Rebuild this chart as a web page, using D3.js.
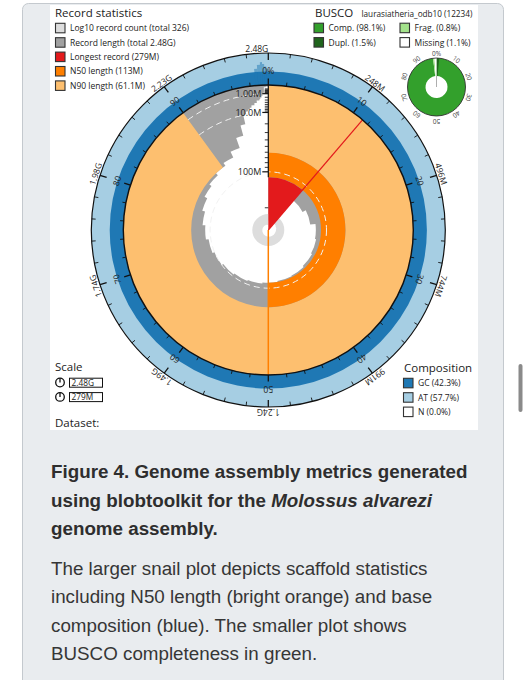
<!DOCTYPE html>
<html><head><meta charset="utf-8">
<script src="https://cdn.jsdelivr.net/npm/d3@7"></script>
<style>
html,body{margin:0;padding:0;background:#fff;}
svg{display:block;}
</style></head><body>
<svg id="c" width="528" height="680"></svg>
<script>
// ---------------- DATA ----------------
// record (scaffold) lengths in Mb, largest first, read from the snail plot steps
const recordLengthsM = [279,150,140,126,123,120,117,115,113,110,107,104,100,95,89,83,77,71,66,61.1,
  55,45,30,18,10,8,7,6,5,5,4,4,3,3,3,2.5,2,2,1.5,1.5,1,1,1,0.8,0.7];
// remaining small records: [count, length Mb]
const smallRecordGroups = [[81,0.07],[200,0.034]];
const longestM = 279, n50M = 113, n90M = 61.1;
const n50Pct = 50, n90Pct = 90;
const outerTickLabels = ["248M","496M","744M","991M","1.24G","1.49G","1.74G","1.98G","2.23G","2.48G"];
const percentTickLabels = ["0%","10","20","30","40","50","60","70","80","90"];
const radialMajorTicksM = [100, 10, 1];
const radialMinorTicksM = [200, 90,80,70,60,50,40,30,20, 9,8,7,6,5,4,3,2, 0.9,0.8,0.7,0.6,0.5,0.4,0.3,0.2];
const compositionNames = ["GC","AT","N"];
const compositionPct = [42.3, 57.7, 0.0];
const gcTailEdgesPct = [98.6, 98.9, 99.2, 99.4, 99.6, 99.8, 100];
const gcTailValues = [52, 64, 72, 66, 58, 49];
const buscoNames = ["Comp.","Dupl.","Frag.","Missing"];
const buscoPct = [98.1, 1.5, 0.8, 1.1];
const buscoTickLabels = ["0%","10","20","30","40","50","60","70","80","90"];
const recordLegend = ["Log10 record count (total 326)","Record length (total 2.48G)","Longest record (279M)","N50 length (113M)","N90 length (61.1M)"];
const scaleLegend = ["2.48G","279M"];

// ---------------- SETUP ----------------
const col = {count:"#dddddd", len:"#a1a1a1", longest:"#e31a1c", n50:"#ff7f00", n90:"#fdbf6f",
  gc:"#1f78b4", at:"#a6cee3", n:"#ffffff", comp:"#33a02c", dupl:"#20641c", frag:"#a3e28b", missing:"#ffffff"};
const FONT = "'Open Sans', 'Noto Sans', sans-serif";
const svg = d3.select("#c");
svg.append("rect").attr("width",528).attr("height",680).attr("fill","#fff");
svg.append("rect").attr("x",22.5).attr("y",3.5).attr("width",481).attr("height",700).attr("rx",6)
  .attr("fill","#e9ecef").attr("stroke","#c4c9ce");
svg.append("rect").attr("x",50).attr("y",5).attr("width",428).attr("height",425).attr("fill","#fff");
svg.append("rect").attr("x",518.5).attr("y",364).attr("width",4).attr("height",48).attr("rx",2).attr("fill","#8a8a8a");

const cx = 268.3, cy = 230, R = 145, Rout = 177;
const lengths = recordLengthsM.concat(smallRecordGroups.flatMap(([n,l]) => Array(n).fill(l)));
const total = d3.sum(lengths);
const aScale = d3.scaleLinear().domain([0,total]).range([0,2*Math.PI]);
const pScale = d3.scaleLinear().domain([0,100]).range([0,2*Math.PI]);
const rScale = d3.scaleSqrt().domain([0,longestM]).range([R,0]);
const cScale = d3.scaleLog().domain([1,1000]).range([9.5,0.5]);
const arc = d3.arc();
const g = svg.append("g").attr("transform",`translate(${cx},${cy})`);
const H = Math.PI/2;

// record length area (grey) with white core
g.append("circle").attr("r",R).attr("fill",col.len);
{
  const p = d3.path(); p.moveTo(0,0); let c = 0;
  lengths.forEach(l => { p.arc(0,0,rScale(l),aScale(c)-H,aScale(c+l)-H); c += l; });
  p.closePath();
  g.append("path").attr("d",p.toString()).attr("fill","#fff");
}
// N90 and N50
g.append("path").attr("d",arc({innerRadius:rScale(n90M),outerRadius:R,startAngle:0,endAngle:pScale(n90Pct)})).attr("fill",col.n90);
g.append("path").attr("d",arc({innerRadius:rScale(n50M),outerRadius:rScale(n90M),startAngle:0,endAngle:pScale(n50Pct)})).attr("fill",col.n50);
// log10 count spiral
g.append("circle").attr("r",cScale(1)+6.5).attr("fill",col.count);
{
  const p = d3.path(); p.moveTo(0,0); let c = 0;
  lengths.forEach((l,i) => { p.arc(0,0,cScale(i+1),aScale(c)-H,aScale(c+l)-H); c += l; });
  p.closePath();
  g.append("path").attr("d",p.toString()).attr("fill","#fff");
}
// longest record
g.append("path").attr("d",arc({innerRadius:0,outerRadius:rScale(n50M),startAngle:0,endAngle:aScale(longestM)})).attr("fill",col.longest);
// dashed order-of-magnitude lines
g.append("circle").attr("r",rScale(100)).attr("fill","none").attr("stroke","#f2f2f2").attr("stroke-width",1).attr("stroke-dasharray","6,4");
[10,1].forEach(v => {
  const r = rScale(v);
  const p = d3.path(); p.arc(0,0,r,pScale(n90Pct)-H,2*Math.PI-H);
  g.append("path").attr("d",p.toString()).attr("fill","none").attr("stroke","#f2f2f2").attr("stroke-width",1).attr("stroke-dasharray","6,4");
});
// radial lines
function radial(a, r0, r1, color, w){
  g.append("line").attr("x1",r0*Math.sin(a)).attr("y1",-r0*Math.cos(a)).attr("x2",r1*Math.sin(a)).attr("y2",-r1*Math.cos(a))
    .attr("stroke",color).attr("stroke-width",w);
}
radial(aScale(longestM),0,R,col.longest,1.2);
radial(pScale(n50Pct),0,R,col.n50,1.5);
// radial axis
g.append("line").attr("x1",0).attr("x2",0).attr("y1",-rScale(n50M)).attr("y2",-R).attr("stroke","#111").attr("stroke-width",1.2);
radialMinorTicksM.forEach(v => g.append("line").attr("x1",-3.5).attr("x2",0).attr("y1",-rScale(v)).attr("y2",-rScale(v)).attr("stroke","#222").attr("stroke-width",0.9));
const fmt = d3.format(".3s");
radialMajorTicksM.forEach(v => {
  g.append("line").attr("x1",-6).attr("x2",0).attr("y1",-rScale(v)).attr("y2",-rScale(v)).attr("stroke","#111").attr("stroke-width",1.2);
  g.append("text").attr("x",-7).attr("y",-rScale(v)).attr("dy","0.35em").attr("text-anchor","end")
    .attr("font-family",FONT).attr("font-size",9).attr("fill","#222").text(fmt(v*1e6));
});

// composition ring
const ringW = Rout - R;
g.append("path").attr("d",arc({innerRadius:R,outerRadius:Rout,startAngle:0,endAngle:2*Math.PI})).attr("fill",col.at);
g.append("path").attr("d",arc({innerRadius:R,outerRadius:R+ringW*compositionPct[0]/100,startAngle:0,endAngle:2*Math.PI})).attr("fill",col.gc);
gcTailValues.forEach((v,i) => {
  g.append("path").attr("d",arc({innerRadius:R,outerRadius:R+ringW*v/100,startAngle:pScale(gcTailEdgesPct[i]),endAngle:pScale(gcTailEdgesPct[i+1])}))
    .attr("fill",col.gc).attr("opacity",0.5);
});
g.append("circle").attr("r",Rout).attr("fill","none").attr("stroke","#111").attr("stroke-width",1.2);
g.append("circle").attr("r",R).attr("fill","none").attr("stroke","#111").attr("stroke-width",1.4);
// ticks
d3.range(50).forEach(k => {
  const a = pScale(k*2), major = k % 5 === 0;
  radial(a, Rout, Rout-(major?7:4), "#111", major?1.3:0.9);
  radial(a, R, R+(major?6.5:3.5), "#111", major?1.3:0.9);
});
outerTickLabels.forEach((t,i) => {
  const deg = (i+1)*36;
  g.append("text").attr("transform",`rotate(${deg}) translate(0,${-(Rout+1.5)})`)
    .attr("text-anchor", i===9 ? "end" : "middle").attr("font-family",FONT).attr("font-size",8.5).attr("fill","#222").text(t);
});
percentTickLabels.forEach((t,i) => {
  const deg = i*36;
  g.append("text").attr("transform",`rotate(${deg}) translate(0,${-(R+11)})`)
    .attr("text-anchor","middle").attr("font-family",FONT).attr("font-size",8.5).attr("fill","#222").text(t);
});

// ---------------- BUSCO donut ----------------
const bx = 436.5, by = 87, bIn = 11, bOut = 29;
const bg = svg.append("g").attr("transform",`translate(${bx},${by})`);
const compEnd = buscoPct[0], fragEnd = buscoPct[0] + buscoPct[2];
bg.append("path").attr("d",arc({innerRadius:bIn,outerRadius:bOut,startAngle:0,endAngle:pScale(compEnd)})).attr("fill",col.comp);
bg.append("path").attr("d",arc({innerRadius:bIn,outerRadius:bOut,startAngle:0,endAngle:pScale(buscoPct[1])})).attr("fill",col.dupl);
bg.append("path").attr("d",arc({innerRadius:bIn,outerRadius:bOut,startAngle:pScale(compEnd),endAngle:pScale(fragEnd)})).attr("fill",col.frag);
bg.append("path").attr("d",arc({innerRadius:bIn,outerRadius:bOut,startAngle:pScale(fragEnd),endAngle:pScale(100)})).attr("fill",col.missing);
bg.append("circle").attr("r",bOut).attr("fill","none").attr("stroke","#333").attr("stroke-width",0.9);
bg.append("line").attr("x1",0).attr("x2",0).attr("y1",0).attr("y2",-bIn).attr("stroke","#999").attr("stroke-width",0.8);
buscoTickLabels.forEach((t,i) => {
  bg.append("text").attr("transform",`rotate(${i*36}) translate(0,${-(bOut+2.5)})`).attr("text-anchor","middle")
    .attr("font-family",FONT).attr("font-size",6.5).attr("fill","#444").text(t);
});

// ---------------- LEGENDS ----------------
function title(x,y,t){ svg.append("text").attr("x",x).attr("y",y).attr("font-family",FONT).attr("font-size",11.5).attr("fill","#222").text(t); }
function swatch(x,y,fill){ svg.append("rect").attr("x",x).attr("y",y).attr("width",9.5).attr("height",9.5).attr("fill",fill).attr("stroke","#333").attr("stroke-width",1.1); }
function label(x,y,t,fs){ svg.append("text").attr("x",x).attr("y",y).attr("font-family",FONT).attr("font-size",fs||8.5).attr("fill","#222").text(t); }

title(55,16.7,"Record statistics");
const recCols = [col.count,col.len,col.longest,col.n50,col.n90];
recordLegend.forEach((t,i) => { swatch(55.5,23.3+i*14.4,recCols[i]); label(70,31.2+i*14.4,t); });

title(315,16.7,"BUSCO");
label(361.5,16.5,"laurasiatheria_odb10 (12234)",8.2);
const bCols = [col.comp,col.dupl,col.frag,col.missing];
const bPos = [[314,23.2],[314,37.6],[400,23.2],[400,37.6]];
buscoNames.forEach((n,i) => { swatch(bPos[i][0],bPos[i][1],bCols[i]); label(bPos[i][0]+14.5,bPos[i][1]+8,`${n} (${buscoPct[i]}%)`); });

title(55,371,"Scale");
scaleLegend.forEach((t,i) => {
  const y = 382.5 + i*14.4;
  svg.append("circle").attr("cx",60).attr("cy",y).attr("r",4.3).attr("fill","#fff").attr("stroke","#111").attr("stroke-width",1.3);
  svg.append("line").attr("x1",60).attr("x2",60).attr("y1",y).attr("y2",y-4.3).attr("stroke","#111").attr("stroke-width",1.3);
  svg.append("rect").attr("x",69.5).attr("y",y-4.3).attr("width",33).attr("height",9).attr("fill","#fff").attr("stroke","#111").attr("stroke-width",1);
  label(71.5,y+3,t,8.3);
});
title(55,427,"Dataset:");

title(404,371.5,"Composition");
const cCols = [col.gc,col.at,col.n];
compositionNames.forEach((n,i) => { swatch(403.5,378.3+i*14.4,cCols[i]); label(418,386.2+i*14.4,`${n} (${compositionPct[i].toFixed(1)}%)`); });

// ---------------- CAPTION ----------------
const CF = "'Liberation Sans', Arial, Helvetica, sans-serif";
const cap = svg.append("g").attr("font-family",CF).attr("font-size",18.8);
const headLines = [[["Figure 4. Genome assembly metrics generated","normal"]],
  [["using blobtoolkit for the ","normal"],["Molossus alvarezi","italic"]],
  [["genome assembly.","normal"]]];
headLines.forEach((parts,i) => {
  const t = cap.append("text").attr("x",51).attr("y",478.3+i*28.3).attr("font-weight","bold").attr("fill","#2e2e2e");
  parts.forEach(([s,st]) => t.append("tspan").attr("font-style",st).text(s));
});
const bodyLines = ["The larger snail plot depicts scaffold statistics","including N50 length (bright orange) and base",
  "composition (blue). The smaller plot shows","BUSCO completeness in green."];
bodyLines.forEach((s,i) => cap.append("text").attr("x",51).attr("y",575+i*28.4).attr("fill","#363636").text(s));
</script>
</body></html>
